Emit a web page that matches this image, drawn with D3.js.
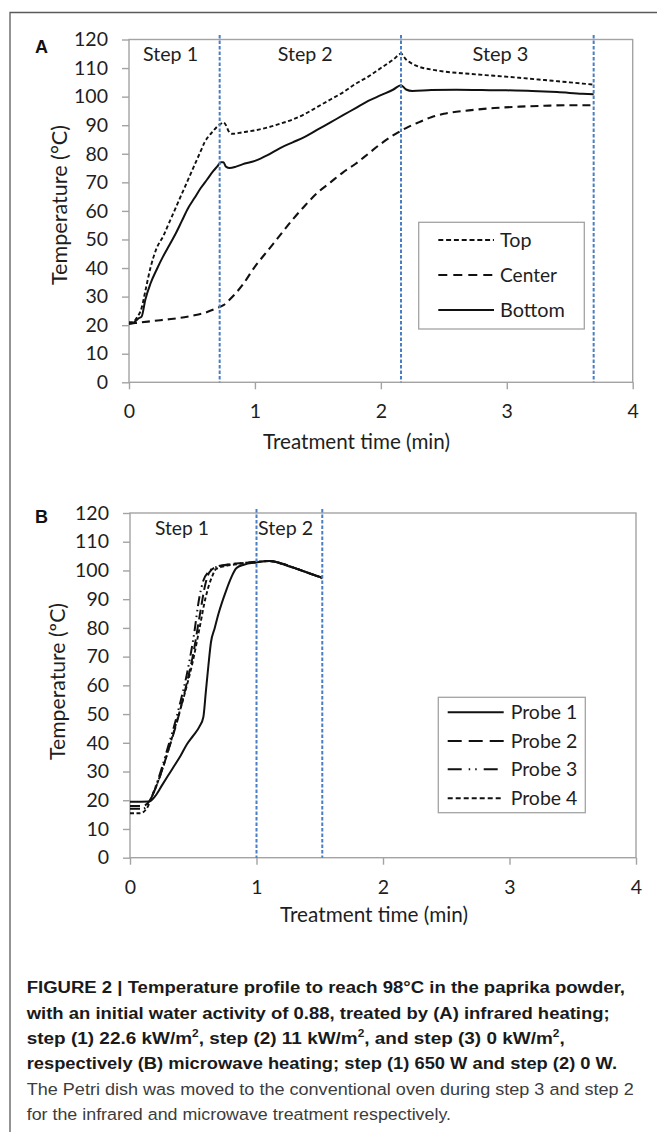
<!DOCTYPE html>
<html><head><meta charset="utf-8">
<script src="https://cdn.jsdelivr.net/npm/d3@7"></script>
<style>body{margin:0;background:#fff}svg{display:block}</style>
</head><body>
<svg id="c" width="657" height="1132"></svg>
<script>
// ---------- data ----------
const xTickValues = [0, 1, 2, 3, 4];
const yTickValues = [0, 10, 20, 30, 40, 50, 60, 70, 80, 90, 100, 110, 120];

// Panel A (infrared)
const stepBoundsA = [0.72, 2.16, 3.69];
const stepNamesA = ["Step 1", "Step 2", "Step 3"];
const seriesNamesA = ["Top", "Center", "Bottom"];
const topA = [[0,21],[0.03,21],[0.06,22.5],[0.1,26],[0.13,32],[0.17,40],[0.22,47],[0.27,51],[0.32,56],[0.37,61],[0.42,66],[0.47,71],[0.52,76],[0.57,81],[0.6,84],[0.63,86],[0.67,88],[0.7,89.5],[0.73,90.5],[0.75,91],[0.77,90],[0.79,88],[0.82,87],[0.9,87.5],[1.0,88.2],[1.1,89.2],[1.2,90.5],[1.3,92],[1.4,94],[1.5,96.5],[1.6,99],[1.7,101.5],[1.8,104.5],[1.9,107],[2.0,110],[2.1,113],[2.16,115],[2.2,113],[2.25,111.5],[2.3,110.5],[2.4,109.5],[2.5,108.8],[2.7,108],[2.9,107.3],[3.1,106.6],[3.3,105.8],[3.5,105],[3.69,104.2]];
const centerA = [[0,20.5],[0.1,21],[0.2,21.5],[0.3,22],[0.4,22.5],[0.5,23.3],[0.6,24.3],[0.7,26],[0.75,27],[0.8,29],[0.9,34],[1.0,40.5],[1.1,46],[1.2,51.5],[1.3,57],[1.4,62],[1.5,66.5],[1.6,70],[1.7,73.5],[1.8,76.5],[1.9,80],[2.0,83.5],[2.1,86.5],[2.2,89],[2.3,91],[2.4,92.8],[2.5,94],[2.7,95.2],[2.9,96],[3.1,96.5],[3.3,96.8],[3.5,97],[3.69,97]];
const bottomA = [[0,20.5],[0.04,21],[0.08,22.5],[0.1,23],[0.13,29],[0.17,34.5],[0.22,39.5],[0.27,44],[0.32,48],[0.37,52],[0.42,56.5],[0.47,61],[0.52,64.5],[0.57,68],[0.62,71],[0.67,74],[0.7,75.5],[0.73,77],[0.75,77],[0.77,75.5],[0.8,75],[0.85,75.5],[0.9,76.3],[1.0,77.5],[1.1,79.5],[1.2,82],[1.3,84],[1.4,86],[1.5,88.5],[1.6,91],[1.7,93.5],[1.8,96],[1.9,98.5],[2.0,100.5],[2.1,102.5],[2.16,104],[2.2,102.5],[2.25,102],[2.4,102.3],[2.6,102.4],[2.8,102.3],[3.0,102.2],[3.2,102],[3.4,101.6],[3.6,101],[3.69,100.8]];

// Panel B (microwave)
const stepBoundsB = [1.0, 1.52];
const stepNamesB = ["Step 1", "Step 2"];
const seriesNamesB = ["Probe 1", "Probe 2", "Probe 3", "Probe 4"];
const probe1B = [[0,19.5],[0.15,19.6],[0.2,21.5],[0.25,25],[0.3,28.5],[0.35,32],[0.4,35.5],[0.45,39.5],[0.5,42.5],[0.55,45.7],[0.58,49],[0.6,58],[0.62,67],[0.64,75],[0.67,80],[0.7,85],[0.76,93],[0.8,97.5],[0.84,100.8],[0.9,102],[1.0,102.8],[1.1,103.3],[1.15,103],[1.2,102.3],[1.3,100.8],[1.4,99.3],[1.52,97.5]];
const probe2B = [[0,18],[0.1,18],[0.15,19.5],[0.2,24],[0.25,30],[0.3,37],[0.35,44],[0.4,52],[0.45,61],[0.5,71],[0.55,84],[0.6,96],[0.63,99.5],[0.7,101.5],[0.8,102.2],[0.9,102.6],[1.0,103],[1.1,103.3],[1.2,102.4],[1.3,100.9],[1.4,99.3],[1.52,97.3]];
const probe3B = [[0,17],[0.1,17],[0.15,19],[0.2,24.5],[0.25,31],[0.3,38.5],[0.35,46],[0.4,54.5],[0.45,64],[0.5,76],[0.55,91],[0.58,96.5],[0.62,99.5],[0.66,100.8],[0.75,101.8],[0.9,102.6],[1.0,103],[1.1,103.3],[1.2,102.4],[1.3,100.9],[1.4,99.3],[1.52,97.4]];
const probe4B = [[0,15.5],[0.08,15.5],[0.13,17],[0.18,22],[0.25,30],[0.3,37],[0.35,44.5],[0.4,52],[0.45,60],[0.5,69],[0.55,80],[0.6,91],[0.65,98],[0.68,100.5],[0.75,101.5],[0.85,102.2],[1.0,102.9],[1.1,103.3],[1.2,102.4],[1.3,100.9],[1.4,99.3],[1.52,97.3]];

// ---------- drawing ----------
const svg = d3.select("#c");
const UI = "Lato, 'Open Sans', sans-serif";
const AXIS = "#a3a3a3";
const TXT = "#1e1e1e";
const BLUE = "#4a7ec2";

svg.append("rect").attr("width", 657).attr("height", 1132).attr("fill", "#fff");
// outer frame
svg.append("path").attr("d", "M10,1132 V12.5 H657").attr("fill", "none").attr("stroke", "#5a5a5a").attr("stroke-width", 1.3);

function fit(sel, target) {
  const L = sel.node().getComputedTextLength();
  const fs = parseFloat(sel.attr("font-size"));
  sel.attr("font-size", fs * target / L);
  return sel;
}

function drawPanel(cfg) {
  const g = svg.append("g");
  const x = d3.scaleLinear().domain([0, 4]).range([cfg.left, cfg.right]);
  const y = d3.scaleLinear().domain([0, 120]).range([cfg.bottom, cfg.top]);

  g.append("rect").attr("x", cfg.left).attr("y", cfg.top)
    .attr("width", cfg.right - cfg.left).attr("height", cfg.bottom - cfg.top)
    .attr("fill", "none").attr("stroke", AXIS).attr("stroke-width", 1.4);

  const ya = g.append("g").attr("transform", `translate(${cfg.left},0)`)
    .call(d3.axisLeft(y).tickValues(yTickValues).tickSize(7).tickPadding(14));
  const xa = g.append("g").attr("transform", `translate(0,${cfg.bottom})`)
    .call(d3.axisBottom(x).tickValues(xTickValues).tickSize(7).tickPadding(15).tickFormat(d3.format("d")));
  [ya, xa].forEach(a => {
    a.select(".domain").remove();
    a.selectAll(".tick line").attr("stroke", AXIS).attr("stroke-width", 1.4);
    a.selectAll(".tick text").attr("font-family", UI).attr("font-size", 19.5).attr("fill", TXT);
  });

  // series
  const line = d3.line().x(d => x(d[0])).y(d => y(d[1])).curve(d3.curveMonotoneX);
  cfg.series.forEach(s => {
    g.append("path").datum(s.data).attr("d", line).attr("fill", "none")
      .attr("stroke", "#111").attr("stroke-width", s.w || 2)
      .attr("stroke-dasharray", s.dash || null);
  });

  // step boundaries
  cfg.steps.forEach(t => {
    g.append("line").attr("x1", x(t)).attr("x2", x(t)).attr("y1", cfg.stepTop).attr("y2", cfg.bottom)
      .attr("stroke", BLUE).attr("stroke-width", 2).attr("stroke-dasharray", "3.5,2");
  });
  cfg.stepLabels.forEach(s => {
    const t = g.append("text").attr("x", x(s.at)).attr("y", cfg.stepBase).attr("text-anchor", "middle")
      .attr("font-family", UI).attr("font-size", 18).attr("fill", TXT).text(s.name);
    fit(t, s.w);
  });

  // legend
  const L = cfg.legend;
  g.append("rect").attr("x", L.x0).attr("y", L.y0).attr("width", L.x1 - L.x0).attr("height", L.y1 - L.y0)
    .attr("fill", "#fff").attr("stroke", AXIS).attr("stroke-width", 1.3);
  cfg.series.forEach((s, i) => {
    const cy = L.rows[i];
    g.append("line").attr("x1", L.lx0).attr("x2", L.lx1).attr("y1", cy).attr("y2", cy)
      .attr("stroke", "#111").attr("stroke-width", 2).attr("stroke-dasharray", s.legDash || s.dash || null);
    const t = g.append("text").attr("x", L.tx).attr("y", cy + 6.8)
      .attr("font-family", UI).attr("font-size", 18).attr("fill", TXT).text(s.name);
    fit(t, s.lw);
  });

  // titles
  const yt = g.append("text").attr("transform", `translate(${cfg.yTitle.x},${cfg.yTitle.y}) rotate(-90)`)
    .attr("text-anchor", "middle").attr("font-family", UI).attr("font-size", 18).attr("fill", TXT).text(cfg.yTitle.text);
  fit(yt, cfg.yTitle.w);
  const xt = g.append("text").attr("x", cfg.xTitle.x).attr("y", cfg.xTitle.y)
    .attr("text-anchor", "middle").attr("font-family", UI).attr("font-size", 18).attr("fill", TXT).text("Treatment time (min)");
  fit(xt, cfg.xTitle.w);

  g.append("text").attr("x", 35).attr("y", cfg.letterY).attr("font-family", "'Liberation Sans', Arial, sans-serif")
    .attr("font-weight", "bold").attr("font-size", 18).attr("fill", "#111").text(cfg.letter);
}

drawPanel({
  letter: "A", letterY: 53.3,
  left: 129, right: 632.7, top: 39.5, bottom: 382.3, stepTop: 35,
  steps: stepBoundsA,
  stepBase: 60.5,
  stepLabels: [{name: stepNamesA[0], at: 0.33, w: 55}, {name: stepNamesA[1], at: 1.40, w: 55}, {name: stepNamesA[2], at: 2.95, w: 56}],
  series: [
    {name: seriesNamesA[0], data: topA, dash: "4,2.5", legDash: "5,2.8", w: 1.9, lw: 31.5},
    {name: seriesNamesA[1], data: centerA, dash: "8,5", legDash: "9,6", w: 2.1, lw: 57},
    {name: seriesNamesA[2], data: bottomA, dash: null, w: 2, lw: 65}
  ],
  legend: {x0: 418.7, x1: 584.3, y0: 222.3, y1: 329, rows: [240, 275, 310], lx0: 438.3, lx1: 494, tx: 500},
  yTitle: {text: "Temperature (°C)", x: 66.5, y: 205, w: 160},
  xTitle: {x: 356.5, y: 449, w: 187}
});

drawPanel({
  letter: "B", letterY: 522.7,
  left: 130, right: 636, top: 513, bottom: 857.7, stepTop: 509,
  steps: stepBoundsB,
  stepBase: 535,
  stepLabels: [{name: stepNamesB[0], at: 0.41, w: 54}, {name: stepNamesB[1], at: 1.23, w: 55}],
  series: [
    {name: seriesNamesB[0], data: probe1B, dash: null, w: 2, lw: 66.7},
    {name: seriesNamesB[1], data: probe2B, dash: "10,5", legDash: "14,7", w: 2, lw: 66.7},
    {name: seriesNamesB[2], data: probe3B, dash: "10,4,1.5,4,1.5,4", legDash: "14,7,1.5,5,1.5,7", w: 2, lw: 66.7},
    {name: seriesNamesB[3], data: probe4B, dash: "4,2.5", legDash: "5,3", w: 1.9, lw: 66.7}
  ],
  legend: {x0: 438.3, x1: 585.3, y0: 697.3, y1: 812.7, rows: [712.3, 741, 769.3, 798.3], lx0: 447.7, lx1: 503.7, tx: 510.7},
  yTitle: {text: "Temperature (ºC)", x: 65, y: 681.5, w: 157},
  xTitle: {x: 374, y: 922, w: 188}
});

// ---------- caption ----------
const CAP = "'Liberation Sans', Arial, Helvetica, sans-serif";
const capLines = [
  {y: 993.3, bold: true, end: 625, parts: [["FIGURE 2 | Temperature profile to reach 98°C in the paprika powder,"]]},
  {y: 1018.5, bold: true, end: 609.7, parts: [["with an initial water activity of 0.88, treated by (A) infrared heating;"]]},
  {y: 1043.7, bold: true, end: 564.7, parts: [["step (1) 22.6 kW/m"], ["2", "sup"], [", step (2) 11 kW/m"], ["2", "sup"], [", and step (3) 0 kW/m"], ["2", "sup"], [","]]},
  {y: 1068.9, bold: true, end: 617, parts: [["respectively (B) microwave heating; step (1) 650 W and step (2) 0 W."]]},
  {y: 1094.5, bold: false, end: 633.7, parts: [["The Petri dish was moved to the conventional oven during step 3 and step 2"]]},
  {y: 1119.7, bold: false, end: 451, parts: [["for the infrared and microwave treatment respectively."]]}
];
capLines.forEach(l => {
  const t = svg.append("text").attr("x", 26.7).attr("y", l.y).attr("font-family", CAP)
    .attr("font-size", 16.8).attr("font-weight", l.bold ? "bold" : "normal")
    .attr("fill", l.bold ? "#1a1a1a" : "#3c3c3c");
  let shifted = false;
  l.parts.forEach(p => {
    const ts = t.append("tspan").text(p[0]);
    if (p[1] === "sup") { ts.attr("font-size", 10.5).attr("dy", -6.5); shifted = true; }
    else if (shifted) { ts.attr("dy", 6.5); shifted = false; }
  });
  t.attr("textLength", l.end - 26.7).attr("lengthAdjust", "spacingAndGlyphs");
});
</script>
</body></html>
